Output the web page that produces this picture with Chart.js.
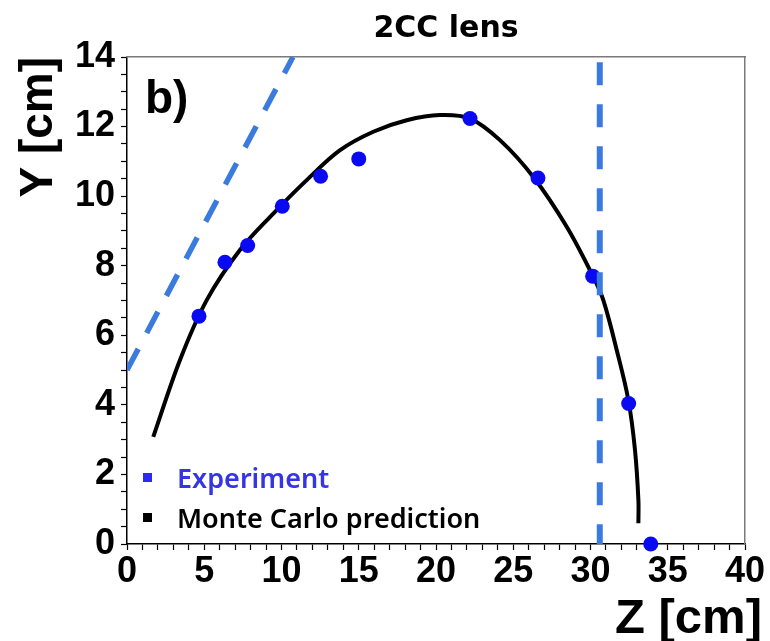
<!DOCTYPE html>
<html>
<head>
<meta charset="utf-8">
<title>2CC lens</title>
<script src="https://cdn.jsdelivr.net/npm/chart.js@4.4.1/dist/chart.umd.min.js"></script>
<style>
  html, body { margin: 0; padding: 0; background: #fff; }
  #wrap { width: 770px; height: 641px; }
</style>
</head>
<body>
<div id="wrap"><canvas id="lensChart" width="770" height="641"></canvas></div>
<script>
// measured focal points (Z, Y in cm)
const expZ = [4.66, 6.34, 7.81, 10.05, 12.53, 15.0, 22.2, 26.6, 30.14, 32.47, 33.9];
const expY = [6.55, 8.10, 8.58, 9.71, 10.57, 11.07, 12.23, 10.52, 7.70, 4.04, 0.0];

// simulated trajectory
const mcZ = [1.70, 3.43, 5.16, 7.31, 9.47, 11.63, 13.79, 15.94, 18.10, 20.26, 22.2, 24.14, 26.3, 28.46, 30.18, 30.83, 31.7, 32.45, 32.88, 33.1, 33.1];
const mcY = [3.08, 5.29, 7.01, 8.45, 9.50, 10.46, 11.32, 11.85, 12.18, 12.33, 12.23, 11.61, 10.55, 9.12, 7.68, 7.01, 5.57, 4.14, 2.70, 1.26, 0.6];

// dashed guide lines
const slopeZ = [0, 10.74];
const slopeY = [5.0, 14.0];
const edgeZ = [30.6, 30.6];
const edgeY = [13.85, 0];

const xTicks = { min: 0, max: 40, minor: 1, major: 5 };
const yTicks = { min: 0, max: 14, minor: 0.5, major: 2 };

const BLUE_DASH = '#3b7bde';
const BLUE_DOT = '#0a0af2';

const toXY = (xs, ys) => xs.map((x, i) => ({ x: x, y: ys[i] }));

const tickFont = { family: "'Liberation Sans', Arial, sans-serif", weight: 'bold', size: 36 };

// text drawn on top: title, panel tag, axis titles, legend
const decorations = {
    id: 'decorations',
    afterDraw(chart) {
        const c = chart.ctx;
        c.save();
        c.fillStyle = '#000';

        c.font = "bold 30px 'DejaVu Sans', sans-serif";
        c.textAlign = 'center';
        c.textBaseline = 'alphabetic';
        c.fillText('2CC lens', 446, 37);

        c.font = "bold 46px 'Liberation Sans', Arial, sans-serif";
        c.textAlign = 'left';
        c.fillText('b)', 145, 113);

        c.save();
        c.translate(52, 57);
        c.rotate(-Math.PI / 2);
        c.textAlign = 'right';
        c.fillText('Y [cm]', 0, 0);
        c.restore();

        c.font = "bold 49px 'Liberation Sans', Arial, sans-serif";
        c.textAlign = 'right';
        c.fillText('Z [cm]', 762, 633);

        // legend
        const items = [
            { text: 'Experiment', color: '#3535e6', box: '#2a2af0', y: 488 },
            { text: 'Monte Carlo prediction', color: '#000', box: '#000', y: 528 }
        ];
        c.font = "600 27px 'Noto Sans', sans-serif";
        c.textAlign = 'left';
        items.forEach(it => {
            c.fillStyle = it.box;
            c.fillRect(143, it.y - 15, 9, 9);
            c.fillStyle = it.color;
            c.fillText(it.text, 177, it.y);
        });
        c.restore();
    }
};

new Chart(document.getElementById('lensChart'), {
    type: 'scatter',
    data: {
        datasets: [
            {
                label: 'slope',
                data: toXY(slopeZ, slopeY),
                showLine: true,
                borderColor: BLUE_DASH,
                borderWidth: 5.5,
                borderDash: [24, 18],
                borderCapStyle: 'butt',
                pointRadius: 0
            },
            {
                label: 'edge',
                data: toXY(edgeZ, edgeY),
                showLine: true,
                borderColor: BLUE_DASH,
                borderWidth: 6,
                borderDash: [23, 19],
                borderCapStyle: 'butt',
                pointRadius: 0
            },
            {
                label: 'Experiment',
                data: toXY(expZ, expY),
                pointRadius: 7.5,
                pointBackgroundColor: BLUE_DOT,
                pointBorderWidth: 0,
                clip: false
            },
            {
                label: 'Monte Carlo prediction',
                data: toXY(mcZ, mcY),
                showLine: true,
                borderColor: '#000',
                borderWidth: 4,
                tension: 0.35,
                pointRadius: 0
            }
        ]
    },
    options: {
        responsive: false,
        animation: false,
        devicePixelRatio: 1,
        events: [],
        layout: { padding: { top: 57, right: 25, left: 0, bottom: 0 } },
        plugins: {
            legend: { display: false },
            tooltip: { enabled: false }
        },
        scales: {
            x: {
                type: 'linear',
                position: 'bottom',
                min: xTicks.min,
                max: xTicks.max,
                ticks: {
                    stepSize: xTicks.minor,
                    autoSkip: false,
                    maxRotation: 0,
                    padding: 0,
                    color: '#000',
                    font: tickFont,
                    callback: v => (v % xTicks.major === 0 ? v : '')
                },
                grid: { drawOnChartArea: false, tickLength: 6, tickColor: '#000', tickWidth: 1.2 },
                border: { color: '#000', width: 1.5 },
                afterFit: s => { s.height = 97; s.paddingLeft = 0; s.paddingRight = 0; }
            },
            y: {
                type: 'linear',
                position: 'left',
                min: yTicks.min,
                max: yTicks.max,
                ticks: {
                    stepSize: yTicks.minor,
                    autoSkip: false,
                    padding: 6,
                    color: '#000',
                    font: tickFont,
                    callback: v => (v % yTicks.major === 0 ? v : '')
                },
                grid: { drawOnChartArea: false, tickLength: 6, tickColor: '#000', tickWidth: 1.2 },
                border: { color: '#000', width: 1.5 },
                afterFit: s => { s.width = 127; s.paddingTop = 0; s.paddingBottom = 0; }
            },
            x2: {
                type: 'linear',
                position: 'top',
                min: xTicks.min,
                max: xTicks.max,
                ticks: { display: false },
                grid: { drawOnChartArea: false, drawTicks: false },
                border: { color: '#7a7a7a', width: 1.5 },
                afterFit: s => { s.height = 0; s.paddingLeft = 0; s.paddingRight = 0; }
            },
            y2: {
                type: 'linear',
                position: 'right',
                min: yTicks.min,
                max: yTicks.max,
                ticks: { display: false },
                grid: { drawOnChartArea: false, drawTicks: false },
                border: { color: '#7a7a7a', width: 1.5 },
                afterFit: s => { s.width = 0; s.paddingTop = 0; s.paddingBottom = 0; }
            }
        }
    },
    plugins: [decorations]
});
</script>
</body>
</html>
